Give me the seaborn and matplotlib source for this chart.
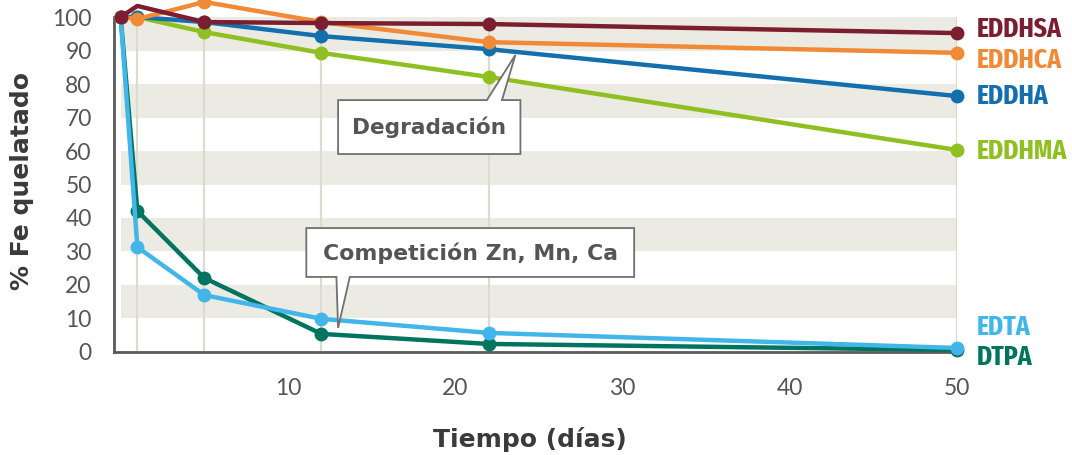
import matplotlib
matplotlib.use("Agg")
import matplotlib.pyplot as plt
import seaborn as sns
import pandas as pd
from matplotlib.patches import Polygon

# ---- data ----
days = [0, 1, 5, 12, 22, 50]
eddhsa = [100, 103.3, 98.5, 98.2, 97.9, 95.2]
eddhca = [100, 99.4, 104.5, 98.5, 92.5, 89.3]
eddha = [100, 100, 98.5, 94.3, 90.4, 76.4]
eddhma = [100, 100, 95.5, 89.3, 82.1, 60.3]
edta = [100, 31.3, 17.0, 9.9, 5.7, 1.2]
dtpa = [100, 42.1, 22.1, 5.4, 2.4, 0.6]

series_names = ["DTPA", "EDTA", "EDDHMA", "EDDHA", "EDDHCA", "EDDHSA"]
series_values = [dtpa, edta, eddhma, eddha, eddhca, eddhsa]
colors = {"EDDHSA": "#7a1e30", "EDDHCA": "#f08a36", "EDDHA": "#136fae",
          "EDDHMA": "#8fbf20", "EDTA": "#42b6e8", "DTPA": "#00745f"}
label_y = {"EDDHSA": 96.2, "EDDHCA": 87.2, "EDDHA": 76.2, "EDDHMA": 59.8,
           "EDTA": 7.5, "DTPA": -1.5}
yticks = list(range(0, 101, 10))
xticks = [10, 20, 30, 40, 50]
bands = [(10, 20), (30, 40), (50, 60), (70, 80), (90, 100)]
callout1 = "Degradación"
callout2 = "Competición Zn, Mn, Ca"

df = pd.concat([pd.DataFrame({"day": days, "value": v, "series": n})
                for n, v in zip(series_names, series_values)], ignore_index=True)

sns.set_theme(style="white")
plt.rcParams["font.family"] = ["DejaVu Sans"]

fig = plt.figure(figsize=(10.72, 4.55), dpi=100)
ax = fig.add_axes([0.1063, 0.2264, 0.7864, 0.7362])
ax.set_xlim(-0.4, 50)
ax.set_ylim(0, 100)

# background bands
for lo, hi in bands:
    ax.fill_between([0, 50], lo, hi, color="#ebebe3", lw=0, zorder=0)
# vertical guide lines at sample days
for d in days[1:]:
    ax.plot([d, d], [0, 100], color="#dcdbd0", lw=1.6, zorder=0.5)

for name in series_names:
    sub = df[df.series == name]
    mev = [0, 2, 3, 4, 5] if name == "EDDHSA" else None
    sns.lineplot(data=sub, x="day", y="value", ax=ax, color=colors[name],
                 lw=3.2, marker="o", markersize=10, markeredgewidth=0,
                 markevery=mev, clip_on=False, legend=False, zorder=3)
    ax.text(51.2, label_y[name], name, color=colors[name], fontsize=20,
            fontweight="bold", family=["Fira Sans Extra Condensed", "DejaVu Sans"],
            va="center", ha="left", clip_on=False)

# spines and ticks
for s in ["top", "right"]:
    ax.spines[s].set_visible(False)
for s in ["left", "bottom"]:
    ax.spines[s].set_color("#5a5a5a")
    ax.spines[s].set_linewidth(2)
    ax.spines[s].set_zorder(2)
ax.set_xticks(xticks)
ax.set_yticks(yticks)
ax.tick_params(axis="x", length=7, width=2, color="#5a5a5a", pad=12,
               labelsize=16.5, labelcolor="#555555", direction="out")
ax.tick_params(axis="y", length=0, pad=16, labelsize=16.5, labelcolor="#555555")
for lab in ax.get_xticklabels() + ax.get_yticklabels():
    lab.set_family("Lato")

ax.set_xlabel("Tiempo (días)", fontsize=18, fontweight="bold", color="#3a3a3a")
ax.set_ylabel("% Fe quelatado", fontsize=18, fontweight="bold", color="#3a3a3a")
ax.xaxis.set_label_coords(0.493, -0.225)
ax.yaxis.set_label_coords(-0.095, 0.51)

# callouts
def callout(x0, x1, y0, y1, base, tip, top_side):
    bx0, bx1 = base
    if top_side:
        verts = [(x0, y0), (x1, y0), (x1, y1), (bx1, y1), tip, (bx0, y1), (x0, y1)]
    else:
        verts = [(x0, y0), (bx0, y0), tip, (bx1, y0), (x1, y0), (x1, y1), (x0, y1)]
    ax.add_patch(Polygon(verts, closed=True, fc="white", ec="#707070", lw=1.3,
                         zorder=5, clip_on=False))

callout(13.0, 23.9, 59.1, 75.2, (21.9, 22.8), (23.6, 88.7), True)
ax.text(18.45, 67.0, callout1, ha="center", va="center", fontsize=15.6,
        fontweight="bold", color="#555555", zorder=6)
callout(11.1, 30.7, 22.4, 37.0, (12.9, 13.7), (13.0, 7.2), False)
ax.text(20.9, 29.6, callout2, ha="center", va="center", fontsize=15.8,
        fontweight="bold", color="#555555", zorder=6)

fig.savefig("out.png", dpi=100)
